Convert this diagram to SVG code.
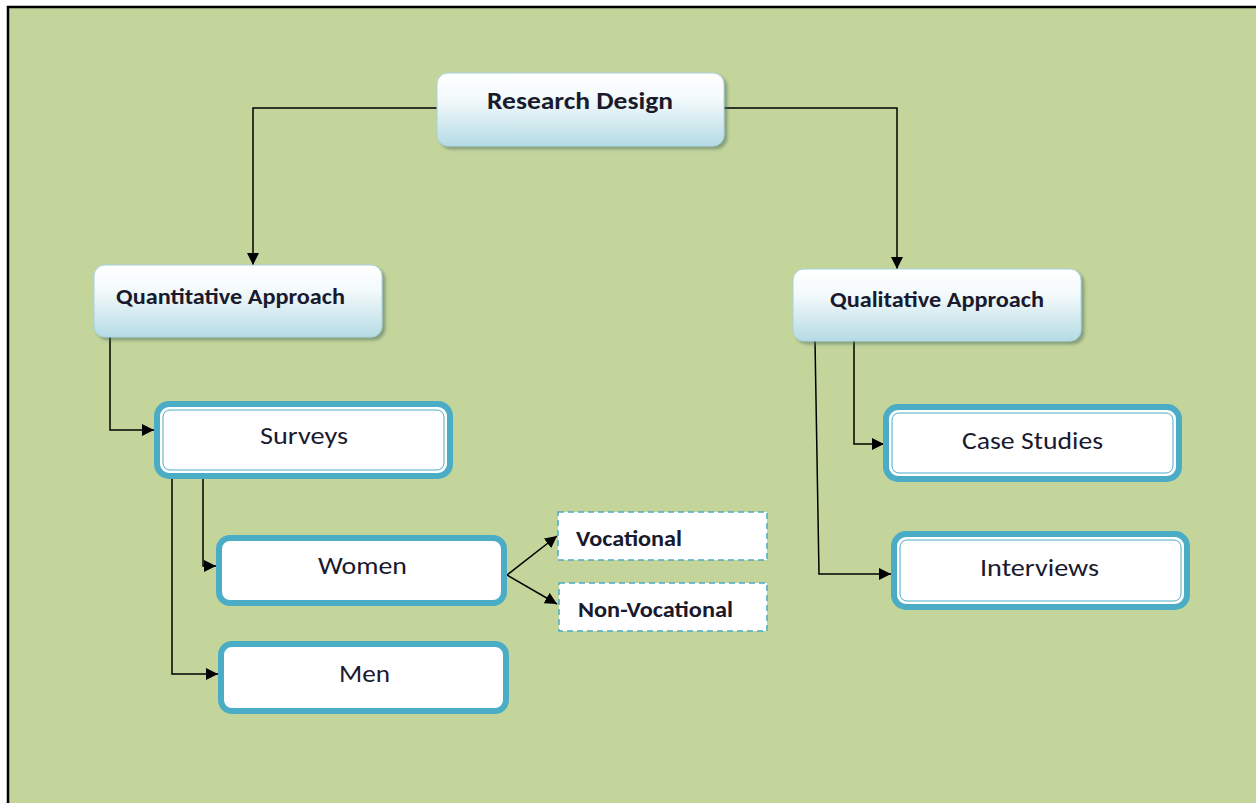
<svg xmlns="http://www.w3.org/2000/svg" width="1256" height="803" viewBox="0 0 1256 803">
<defs>
<linearGradient id="g" x1="0" y1="0" x2="0" y2="1">
<stop offset="0" stop-color="#ffffff"/>
<stop offset="0.35" stop-color="#f4fafb"/>
<stop offset="1" stop-color="#b5dbe5"/>
</linearGradient>
<filter id="sh" x="-10%" y="-20%" width="130%" height="150%">
<feDropShadow dx="3" dy="3" stdDeviation="1.5" flood-color="#4a6a5a" flood-opacity="0.5"/>
</filter>
<marker id="ah" viewBox="0 0 10 10" refX="10" refY="5" markerWidth="12" markerHeight="12" markerUnits="userSpaceOnUse" orient="auto">
<path d="M0,0 L10,5 L0,10 z" fill="#000"/>
</marker>
</defs>
<style>
.hdr{fill:url(#g);stroke:#a9d4df;stroke-width:1;filter:url(#sh)}
.thick{fill:#fff;stroke:#4bacc6;stroke-width:6}
.inner{fill:none;stroke:#4bacc6;stroke-width:1}
.dash{fill:#fff;stroke:#4bacc6;stroke-width:1.5;stroke-dasharray:6 4}
.t{font-family:Carlito,Calibri,"Open Sans","Liberation Sans",sans-serif;fill:#1a1a2e}
.b{font-weight:bold}
.c{stroke:#000;stroke-width:1.5;fill:none}
</style>
<rect x="0" y="0" width="1256" height="803" fill="#ffffff"/>
<rect x="8" y="7" width="1260" height="810" fill="#c3d59b" stroke="#000" stroke-width="2.5"/>

<g id="connectors">
<path class="c" d="M437,108 H253 V265" marker-end="url(#ah)"/>
<path class="c" d="M724,108 H897 V269" marker-end="url(#ah)"/>
<path class="c" d="M110,337 V430 H154" marker-end="url(#ah)"/>
<path class="c" d="M203,479 V566 H216" marker-end="url(#ah)"/>
<path class="c" d="M172,479 V674 H218" marker-end="url(#ah)"/>
<path class="c" d="M507,575 L557,536" marker-end="url(#ah)"/>
<path class="c" d="M507,575 L557,604" marker-end="url(#ah)"/>
<path class="c" d="M854,341 V444 H884" marker-end="url(#ah)"/>
<path class="c" d="M815,341 L819,574 H891" marker-end="url(#ah)"/>
</g>

<g id="research-design">
<rect class="hdr" x="437" y="73" width="287" height="73" rx="11"/>
<text class="t b" x="487" y="109" font-size="25" textLength="186" lengthAdjust="spacingAndGlyphs">Research Design</text>
</g>
<g id="quantitative">
<rect class="hdr" x="94" y="265" width="288" height="72" rx="11"/>
<text class="t b" x="116" y="304" font-size="23" textLength="229" lengthAdjust="spacingAndGlyphs">Quantitative Approach</text>
</g>
<g id="qualitative">
<rect class="hdr" x="793" y="269" width="288" height="72" rx="11"/>
<text class="t b" x="830" y="307" font-size="23" textLength="214" lengthAdjust="spacingAndGlyphs">Qualitative Approach</text>
</g>
<g id="surveys">
<rect class="thick" x="157" y="404" width="293" height="72" rx="12"/>
<rect class="inner" x="163" y="410" width="281" height="60" rx="7"/>
<text class="t" x="260" y="444" font-size="25" textLength="88" lengthAdjust="spacingAndGlyphs">Surveys</text>
</g>
<g id="women">
<rect class="thick" x="219" y="538" width="285" height="65" rx="11"/>
<text class="t" x="318" y="574" font-size="25" textLength="89" lengthAdjust="spacingAndGlyphs">Women</text>
</g>
<g id="men">
<rect class="thick" x="221" y="644" width="285" height="67" rx="11"/>
<text class="t" x="339" y="682" font-size="25" textLength="51" lengthAdjust="spacingAndGlyphs">Men</text>
</g>
<g id="vocational">
<rect class="dash" x="558" y="512" width="209" height="48"/>
<text class="t b" x="576" y="546" font-size="22" textLength="106" lengthAdjust="spacingAndGlyphs">Vocational</text>
</g>
<g id="non-vocational">
<rect class="dash" x="559" y="583" width="208" height="48"/>
<text class="t b" x="578" y="617" font-size="22" textLength="155" lengthAdjust="spacingAndGlyphs">Non-Vocational</text>
</g>
<g id="case-studies">
<rect class="thick" x="886" y="407" width="293" height="72" rx="12"/>
<rect class="inner" x="892" y="413" width="281" height="60" rx="7"/>
<text class="t" x="962" y="449" font-size="25" textLength="141" lengthAdjust="spacingAndGlyphs">Case Studies</text>
</g>
<g id="interviews">
<rect class="thick" x="894" y="534" width="293" height="73" rx="12"/>
<rect class="inner" x="900" y="540" width="281" height="61" rx="7"/>
<text class="t" x="980" y="576" font-size="25" textLength="119" lengthAdjust="spacingAndGlyphs">Interviews</text>
</g>
</svg>
